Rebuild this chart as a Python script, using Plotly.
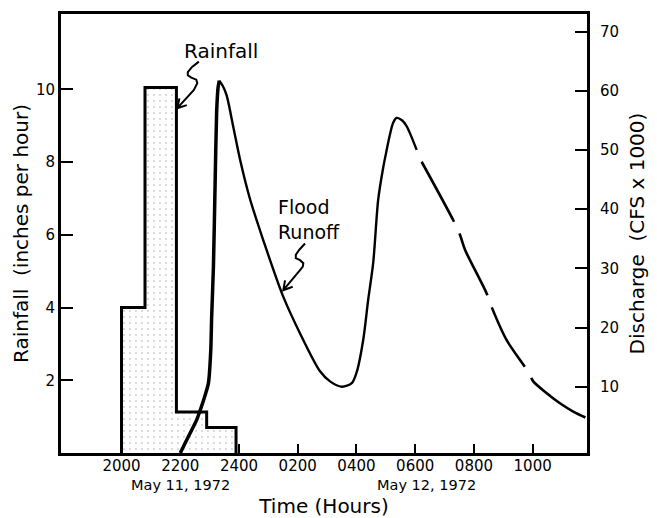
import plotly.graph_objects as go

# ---------------- data (hours after 2000, May 11, 1972) ----------------
rain_start_hr = [0.0, 0.8, 1.87, 2.9]
rain_end_hr = [0.8, 1.87, 2.9, 3.9]
rain_rate_in_per_hr = [4.0, 10.05, 1.13, 0.7]

# Flood runoff discharge (CFS x 1000) -- rising limb of first flood wave
runoff_rise_hr = [2.0, 2.33, 2.56, 2.67, 2.85, 2.96, 3.04, 3.07, 3.13, 3.19, 3.24, 3.29, 3.33]
runoff_rise_cfs = [-1.2, 2.1, 4.4, 5.9, 8.6, 10.6, 16.2, 21.8, 30.3, 45.0, 56.5, 60.6, 61.7]

# recession + second flood wave (measured, solid)
runoff_main_hr = [3.33, 3.45, 3.58, 3.81, 4.04, 4.37, 4.65, 4.94, 5.5, 6.08, 6.76, 7.1, 7.5,
                  7.84, 8.01, 8.23, 8.4, 8.57, 8.74, 8.91, 9.03, 9.14, 9.25, 9.37, 9.55, 9.71, 10.05]
runoff_main_cfs = [61.7, 60.8, 59.2, 53.8, 48.3, 41.8, 37.4, 33.1, 25.3, 19.0, 12.6, 10.9, 10.0,
                   10.6, 12.5, 17.9, 24.7, 30.9, 41.6, 47.0, 50.0, 52.6, 54.6, 55.4, 55.0, 54.0, 50.0]

# estimated part (dashed)
runoff_est_hr = [10.22, 11.35, 11.53, 11.7, 12.43, 12.6, 13.11, 13.85, 14.02, 14.48, 14.93, 15.38, 15.84]
runoff_est_cfs = [48.0, 37.6, 35.6, 33.1, 25.8, 23.5, 17.9, 12.5, 10.9, 8.9, 7.2, 5.8, 4.7]

tick_hours = [0, 2, 4, 6, 8, 10, 12, 14]
tick_labels = ["2000", "2200", "2400", "0200", "0400", "0600", "0800", "1000"]
rain_ticks = [2, 4, 6, 8, 10]
discharge_ticks = [10, 20, 30, 40, 50, 60, 70]

FONT = "DejaVu Sans"

fig = go.Figure()

# rainfall histogram (step outline, stippled fill)
step_x = [rain_start_hr[0]] + rain_start_hr + [rain_end_hr[-1]]
step_y = [0] + rain_rate_in_per_hr + [0]
fig.add_trace(go.Scatter(
    x=step_x, y=step_y, mode="lines", line=dict(shape="hv", color="black", width=3),
    fill="tozeroy", fillcolor="white",
    fillpattern=dict(shape=".", fgcolor="#9a9a9a", bgcolor="white", size=6, solidity=0.08),
    name="Rainfall", yaxis="y", showlegend=False, hoverinfo="skip"))

# runoff curve
fig.add_trace(go.Scatter(x=runoff_rise_hr, y=runoff_rise_cfs, mode="lines", yaxis="y2",
                         line=dict(color="black", width=3.5, shape="spline", smoothing=0.6),
                         showlegend=False, hoverinfo="skip"))
fig.add_trace(go.Scatter(x=runoff_main_hr, y=runoff_main_cfs, mode="lines", yaxis="y2",
                         line=dict(color="black", width=2.4, shape="spline", smoothing=0.8),
                         showlegend=False, hoverinfo="skip"))
fig.add_trace(go.Scatter(x=runoff_est_hr, y=runoff_est_cfs, mode="lines", yaxis="y2",
                         line=dict(color="black", width=2.6, shape="spline", smoothing=0.8,
                                   dash="68px,13px"),
                         showlegend=False, hoverinfo="skip"))


def squiggle_path(pts, wing1, wing2):
    # pts in screen pixel offsets (y down) relative to arrow tip; convert to y-up
    s = "M %.1f,%.1f" % (pts[0][0], -pts[0][1])
    for i in range(1, len(pts)):
        s += " L %.1f,%.1f" % (pts[i][0], -pts[i][1])
    s += " L 0,0 M %.1f,%.1f L 0,0 L %.1f,%.1f" % (wing1[0], -wing1[1], wing2[0], -wing2[1])
    return s


rain_squiggle = [(21.6, -46.6), (14.5, -41), (10.5, -36), (10.5, -33), (14, -30.6),
                 (19, -28.5), (20, -25), (16.6, -18.3)]
flood_squiggle = [(21.7, -46.7), (16, -40.5), (12.5, -35.5), (12.5, -32), (16.7, -30),
                  (20, -27), (19.5, -23.5), (16.7, -20)]

fig.add_shape(type="path", xref="x", yref="y", xsizemode="pixel", ysizemode="pixel",
              xanchor=1.9, yanchor=9.48,
              path=squiggle_path(rain_squiggle, (9.5, -3.1), (2.1, -9.8)),
              line=dict(color="black", width=2))
fig.add_shape(type="path", xref="x", yref="y2", xsizemode="pixel", ysizemode="pixel",
              xanchor=5.51, yanchor=26.3,
              path=squiggle_path(flood_squiggle, (9.4, -3.5), (1.7, -9.9)),
              line=dict(color="black", width=2))

ann_font = dict(family=FONT, size=20, color="black")
fig.add_annotation(x=3.39, y=11.05, xref="x", yref="y", text="Rainfall", showarrow=False,
                   font=ann_font, xanchor="center", yanchor="middle")
fig.add_annotation(x=5.26, y=6.42, xref="x", yref="y", text="Flood<br>Runoff", showarrow=False,
                   font=dict(family=FONT, size=19, color="black"), align="left",
                   xanchor="left", yanchor="middle")

date_font = dict(family=FONT, size=14.5, color="black")
fig.add_annotation(x=2.0, y=0, xref="x", yref="paper", yshift=-32, text="May 11, 1972",
                   showarrow=False, font=date_font, xanchor="center", yanchor="middle")
fig.add_annotation(x=10.37, y=0, xref="x", yref="paper", yshift=-32, text="May 12, 1972",
                   showarrow=False, font=date_font, xanchor="center", yanchor="middle")

tick_font = dict(family=FONT, size=15, color="black")
title_font = dict(family=FONT, size=20, color="black")

fig.update_layout(
    width=657, height=518,
    margin=dict(l=61, r=70, t=14, b=65),
    paper_bgcolor="white", plot_bgcolor="white",
    showlegend=False,
    xaxis=dict(range=[-2.06, 15.85], tickvals=tick_hours, ticktext=tick_labels,
               ticks="inside", ticklen=9, tickwidth=2, tickcolor="black",
               showline=True, linewidth=3, linecolor="black", mirror=True,
               showgrid=False, zeroline=False, tickfont=tick_font, layer="below traces",
               title=dict(text="Time (Hours)", font=title_font, standoff=30),
               ticklabelstandoff=-3, automargin=False),
    yaxis=dict(range=[0, 12.07], tickvals=rain_ticks, ticks="inside", ticklen=12, tickwidth=2,
               tickcolor="black", showline=True, linewidth=3, linecolor="black", mirror=True,
               showgrid=False, zeroline=False, tickfont=tick_font, layer="below traces",
               title=dict(text="Rainfall  (inches per hour)", font=title_font, standoff=2),
               ticklabelstandoff=0, automargin=False),
    yaxis2=dict(range=[-1.2, 72.96], overlaying="y", side="right", tickvals=discharge_ticks,
                ticks="inside", ticklen=12, tickwidth=2, tickcolor="black",
                showline=False, showgrid=False, zeroline=False, tickfont=tick_font,
                title=dict(text="Discharge  (CFS x 1000)", font=title_font, standoff=11),
                ticklabelstandoff=12, automargin=False),
)

fig.write_html("out.html", config={"displayModeBar": False},
               post_script="document.body.style.margin='0px';")
